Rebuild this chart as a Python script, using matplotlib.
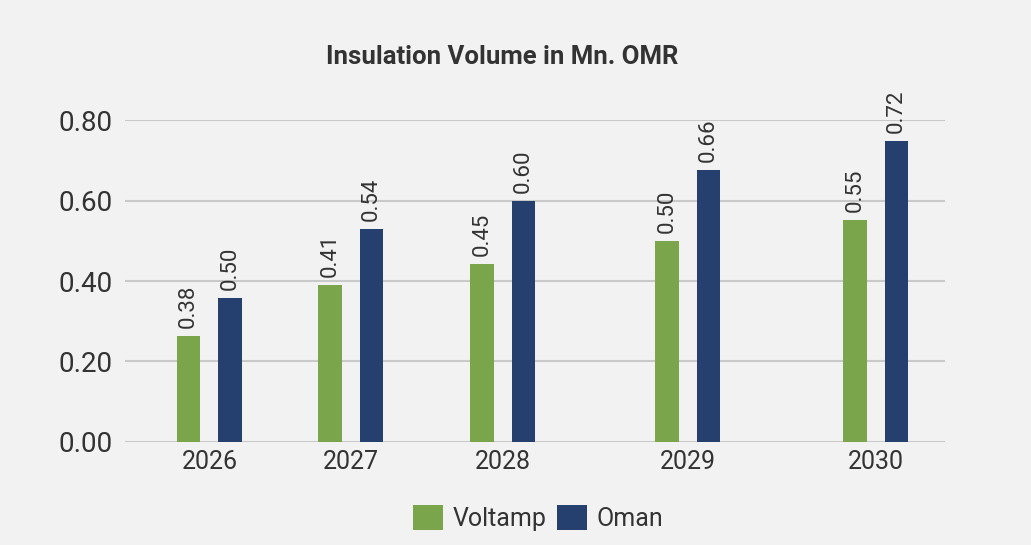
import matplotlib.pyplot as plt
from matplotlib.patches import Patch

years = ["2026", "2027", "2028", "2029", "2030"]
# bar heights as drawn in the source chart
voltamp = [0.263, 0.39, 0.442, 0.499, 0.551]
oman = [0.358, 0.529, 0.599, 0.676, 0.748]
# printed data labels (as shown on the chart)
voltamp_labels = ["0.38", "0.41", "0.45", "0.50", "0.55"]
oman_labels = ["0.50", "0.54", "0.60", "0.66", "0.72"]

# uneven group spacing of the original layout
group_pos = [0, 1.415, 2.935, 4.785, 6.66]
bar_w = 0.235
offset = 0.2075

GREEN = "#7aa54b"
BLUE = "#253f6f"
BG = "#f2f2f2"
TXT = "#333333"

plt.rcParams['font.family'] = ['Roboto', 'DejaVu Sans']

fig = plt.figure(figsize=(10.31, 5.45), dpi=100, facecolor=BG)
ax = fig.add_axes([0.1212, 0.189, 0.7954, 0.5908], facecolor=BG)

xg = [p - offset for p in group_pos]
xo = [p + offset for p in group_pos]
b1 = ax.bar(xg, voltamp, width=bar_w, color=GREEN, zorder=3)
b2 = ax.bar(xo, oman, width=bar_w, color=BLUE, zorder=3)

for bars, labels in ((b1, voltamp_labels), (b2, oman_labels)):
    for rect, lab in zip(bars, labels):
        ax.annotate(lab, (rect.get_x() + rect.get_width() / 2, rect.get_height()),
                    xytext=(0, 6), textcoords="offset points",
                    rotation=90, ha="center", va="bottom",
                    fontsize=16, color=TXT)

ax.set_xlim(-0.845, 7.355)
ax.set_ylim(0, 0.8)
ax.set_yticks([0, 0.2, 0.4, 0.6, 0.8])
ax.set_yticklabels(["0.00", "0.20", "0.40", "0.60", "0.80"], fontsize=20, color=TXT)
ax.set_xticks(group_pos)
ax.set_xticklabels(years, fontsize=18, color=TXT)
ax.tick_params(axis="both", length=0)
ax.tick_params(axis="y", pad=9)
ax.tick_params(axis="x", pad=6)
ax.yaxis.grid(True, color="#c9c9c9", linewidth=1.5, zorder=0)
for s in ax.spines.values():
    s.set_visible(False)

fig.text(0.487, 0.895, "Insulation Volume in Mn. OMR", ha="center", va="center",
         fontsize=18.5, fontweight="bold", color=TXT)

handles = [Patch(facecolor=GREEN, label="Voltamp"), Patch(facecolor=BLUE, label="Oman")]
fig.legend(handles=handles, loc="center", bbox_to_anchor=(0.522, 0.05), ncol=2,
           frameon=False, fontsize=18, handlelength=1.2, handleheight=1.2,
           handletextpad=0.4, columnspacing=0.4, labelcolor=TXT)

fig.savefig("out.png", dpi=100, facecolor=BG)
